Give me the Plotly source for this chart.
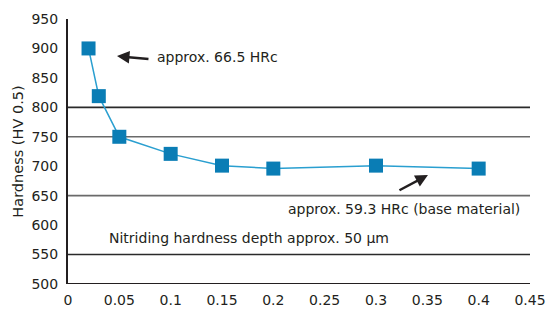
import plotly.graph_objects as go

depth_mm = [0.02, 0.03, 0.05, 0.1, 0.15, 0.2, 0.3, 0.4]
hardness_hv = [900, 819, 750, 721, 701, 696, 701, 696]
x_ticks = [0, 0.05, 0.1, 0.15, 0.2, 0.25, 0.3, 0.35, 0.4, 0.45]
x_tick_labels = ["0", "0.05", "0.1", "0.15", "0.2", "0.25", "0.3", "0.35", "0.4", "0.45"]
y_ticks = [500, 550, 600, 650, 700, 750, 800, 850, 900, 950]
grid_lines = [550, 650, 750, 800]
grid_colors = ["#2a2a2a", "#6a6a6a", "#6a6a6a", "#2a2a2a"]

FONT = "DejaVu Sans"
TXT = "#231f20"

fig = go.Figure()
fig.add_trace(go.Scatter(
    x=depth_mm, y=hardness_hv, mode="lines+markers",
    line=dict(color="#2a9fd0", width=1.5),
    marker=dict(symbol="square", size=14, color="#0a7db5"),
    showlegend=False, cliponaxis=False,
))

shapes = []
for g, c in zip(grid_lines, grid_colors):
    shapes.append(dict(type="line", xref="paper", yref="y", x0=0, x1=1, y0=g, y1=g,
                       line=dict(color=c, width=1.6), layer="below"))

fig.update_layout(
    width=549, height=310,
    margin=dict(l=68, r=19, t=19, b=26, autoexpand=False),
    paper_bgcolor="white", plot_bgcolor="white",
    font=dict(family=FONT, color=TXT, size=14),
    shapes=shapes,
    xaxis=dict(range=[0, 0.45], tickvals=x_ticks, ticktext=x_tick_labels,
               showgrid=False, zeroline=False, showline=False, ticks="outside",
               ticklen=3, tickcolor="rgba(0,0,0,0)", automargin=False,
               tickfont=dict(size=14, color=TXT)),
    yaxis=dict(range=[500, 950], tickvals=y_ticks, showgrid=False, zeroline=False,
               showline=True, linecolor="#231f20", linewidth=2, ticks="outside",
               ticklen=5, tickcolor="rgba(0,0,0,0)", automargin=False,
               tickfont=dict(size=14, color=TXT),
               title=dict(text="Hardness (HV 0.5)", font=dict(size=14.5, color=TXT), standoff=4)),
    annotations=[
        dict(x=0.0477, y=887, xref="x", yref="y", text="", showarrow=True,
             ax=33, ay=3, arrowhead=2, arrowsize=1, arrowwidth=2.5, arrowcolor="#231f20"),
        dict(x=0.0850, y=886, xref="x", yref="y", text="approx. 66.5 HRc", showarrow=False,
             xanchor="left", yanchor="middle", font=dict(size=14, color=TXT)),
        dict(x=0.3506, y=685, xref="x", yref="y", text="", showarrow=True,
             ax=-30, ay=16, arrowhead=2, arrowsize=1, arrowwidth=2.5, arrowcolor="#231f20"),
        dict(x=0.442, y=627, xref="x", yref="y", text="approx. 59.3 HRc (base material)",
             showarrow=False, xanchor="right", yanchor="middle", font=dict(size=14, color=TXT)),
        dict(x=0.038, y=578, xref="x", yref="y", text="Nitriding hardness depth approx. 50 µm",
             showarrow=False, xanchor="left", yanchor="middle", font=dict(size=14, color=TXT)),
    ],
)
fig.add_shape(type="line", xref="paper", yref="y", x0=0, x1=1, y0=500, y1=500,
              line=dict(color="#231f20", width=2))

fig.write_html("out.html", config={"displayModeBar": False},
               post_script="document.body.style.margin='0';document.body.style.overflow='hidden';")
